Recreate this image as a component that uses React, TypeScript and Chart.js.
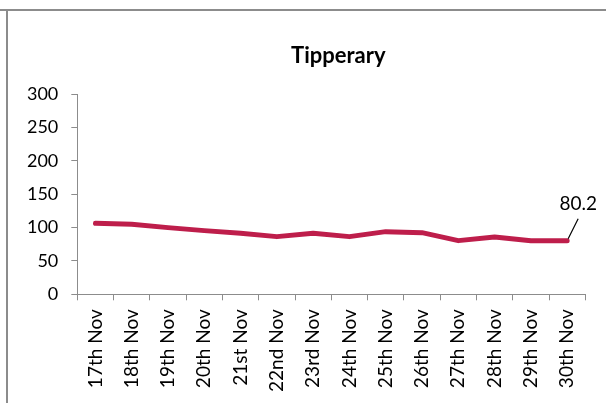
import React, { useEffect, useRef } from "react";
import { Chart, registerables } from "chart.js";

Chart.register(...registerables);

const categories = [
  "17th Nov", "18th Nov", "19th Nov", "20th Nov", "21st Nov", "22nd Nov", "23rd Nov",
  "24th Nov", "25th Nov", "26th Nov", "27th Nov", "28th Nov", "29th Nov", "30th Nov",
];
const values = [106.5, 105, 100, 95.5, 91.5, 86.5, 91.5, 86.5, 94, 92.5, 80.5, 86, 80.2, 80.2];
const yTicks = [0, 50, 100, 150, 200, 250, 300];
const titleText = "Tipperary";
const lastLabel = "80.2";

const FONT = "Lato, 'Open Sans', sans-serif";

export default function App() {
  const ref = useRef<HTMLCanvasElement | null>(null);

  useEffect(() => {
    if (!ref.current) return;
    const decor = {
      id: "decor",
      beforeDraw(chart: any) {
        const ctx = chart.ctx;
        ctx.save();
        ctx.fillStyle = "#8c8c8c";
        ctx.fillRect(0, 9, 606, 2);
        ctx.fillRect(6, 9, 2, 394);
        ctx.restore();
      },
      afterDraw(chart: any) {
        const ctx = chart.ctx;
        const area = chart.chartArea;
        ctx.save();
        ctx.fillStyle = "#000";
        ctx.font = `bold 22px ${FONT}`;
        ctx.textAlign = "center";
        ctx.textBaseline = "alphabetic";
        ctx.fillText(titleText, (area.left + area.right) / 2 + 7, 63);
        const meta = chart.getDatasetMeta(0);
        const pt = meta.data[meta.data.length - 1];
        const x = pt.x;
        const y = pt.y;
        ctx.strokeStyle = "#000";
        ctx.lineWidth = 1.2;
        ctx.beginPath();
        ctx.moveTo(x + 1, y - 2);
        ctx.lineTo(x + 11, y - 22);
        ctx.stroke();
        ctx.font = `19px ${FONT}`;
        ctx.textAlign = "center";
        ctx.textBaseline = "middle";
        ctx.fillText(lastLabel, x + 11, y - 37);
        ctx.restore();
      },
    };

    const chart = new Chart(ref.current, {
      type: "line",
      data: {
        labels: categories,
        datasets: [
          {
            data: values,
            borderColor: "#be1e4b",
            backgroundColor: "#be1e4b",
            borderWidth: 5,
            pointRadius: 0,
            tension: 0,
            borderCapStyle: "round",
            borderJoinStyle: "round",
          },
        ],
      },
      options: {
        responsive: false,
        animation: false,
        layout: { padding: { top: 94.3, left: 10, right: 20.7, bottom: 0 } },
        plugins: {
          legend: { display: false },
          title: { display: false },
          tooltip: { enabled: false },
        },
        scales: {
          x: {
            offset: true,
            grid: {
              offset: true,
              drawOnChartArea: false,
              drawTicks: true,
              tickLength: 6,
              color: "#8c8c8c",
            },
            border: { color: "#8c8c8c", width: 1 },
            ticks: {
              autoSkip: false,
              minRotation: 90,
              maxRotation: 90,
              padding: 9,
              color: "#000",
              font: { family: FONT, size: 19 },
            },
            afterFit(scale: any) {
              scale.height = 403 - 294.3;
            },
          },
          y: {
            min: 0,
            max: 300,
            afterBuildTicks(scale: any) {
              scale.ticks = yTicks.map((v) => ({ value: v }));
            },
            grid: {
              drawOnChartArea: false,
              drawTicks: true,
              tickLength: 6,
              color: "#8c8c8c",
            },
            border: { color: "#8c8c8c", width: 1 },
            ticks: {
              padding: 13,
              color: "#000",
              font: { family: FONT, size: 18 },
            },
            afterFit(scale: any) {
              scale.width = 77.3 - 10;
            },
          },
        },
      },
      plugins: [decor],
    } as any);
    return () => chart.destroy();
  }, []);

  return (
    <canvas
      ref={ref}
      width={606}
      height={403}
      style={{ position: "absolute", left: 0, top: 0, width: 606, height: 403 }}
    />
  );
}
